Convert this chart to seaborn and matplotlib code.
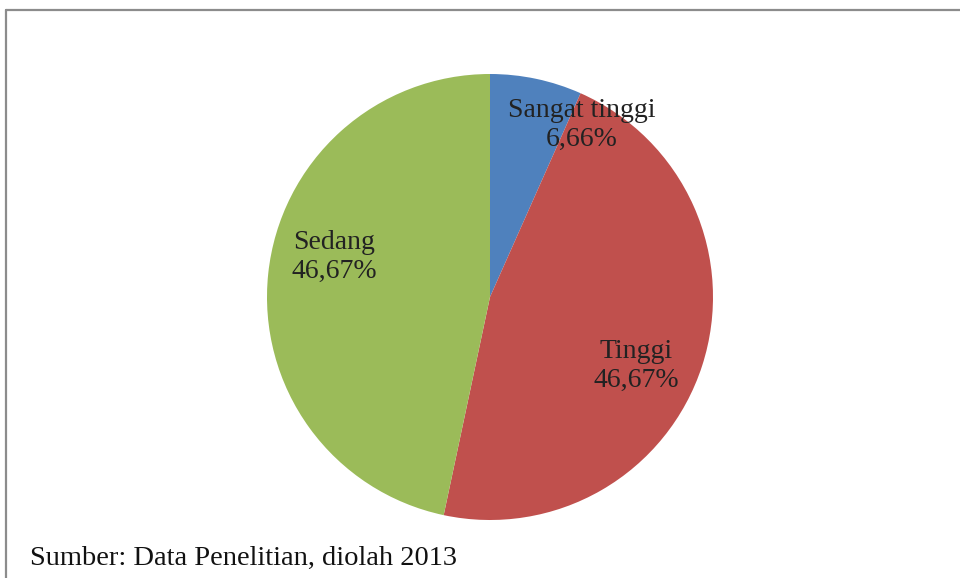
import matplotlib
matplotlib.use("Agg")
import matplotlib.pyplot as plt
from matplotlib.lines import Line2D
import seaborn as sns

sns.set_theme(style="white")
plt.rcParams['font.family'] = ['Liberation Serif', 'DejaVu Serif']

# data
categories = ['Sangat tinggi', 'Tinggi', 'Sedang']
percent = [6.66, 46.67, 46.67]
pct_labels = ['6,66%', '46,67%', '46,67%']
colors = ['#4F81BD', '#C0504D', '#9BBB59']

# label positions inside the pie (radius units)
label_pos = [(0.41, 0.77), (0.655, -0.31), (-0.70, 0.18)]

fig = plt.figure(figsize=(9.6, 5.78), dpi=100)
fig.patch.set_facecolor('white')

# pie axes: centre (490, 297) px, radius 223 px
W, H = 960, 578
r = 223
ax = fig.add_axes([(490 - r) / W, (H - 297 - r) / H, 2 * r / W, 2 * r / H])
ax.pie(percent, colors=colors, startangle=90, counterclock=False,
       radius=1, wedgeprops=dict(linewidth=0))
ax.set_xlim(-1, 1)
ax.set_ylim(-1, 1)
ax.set_aspect('equal')
ax.axis('off')

for name, pct, (x, y) in zip(categories, pct_labels, label_pos):
    ax.text(x, y, f'{name}\n{pct}', ha='center', va='center',
            fontsize=20, color='#222222', linespacing=1.2)

# source caption
fig.text(30 / W, 1 - 565 / H, 'Sumber: Data Penelitian, diolah 2013',
         fontsize=20.5, color='#111111', ha='left', va='baseline')

# chart frame (top and left edges visible)
fig.add_artist(Line2D([6 / W, 1.0], [1 - 10 / H, 1 - 10 / H],
                      color='#8c8c8c', linewidth=1.6, transform=fig.transFigure))
fig.add_artist(Line2D([6 / W, 6 / W], [0.0, 1 - 10 / H],
                      color='#8c8c8c', linewidth=1.6, transform=fig.transFigure))

fig.savefig('out.png', dpi=100, facecolor='white')
